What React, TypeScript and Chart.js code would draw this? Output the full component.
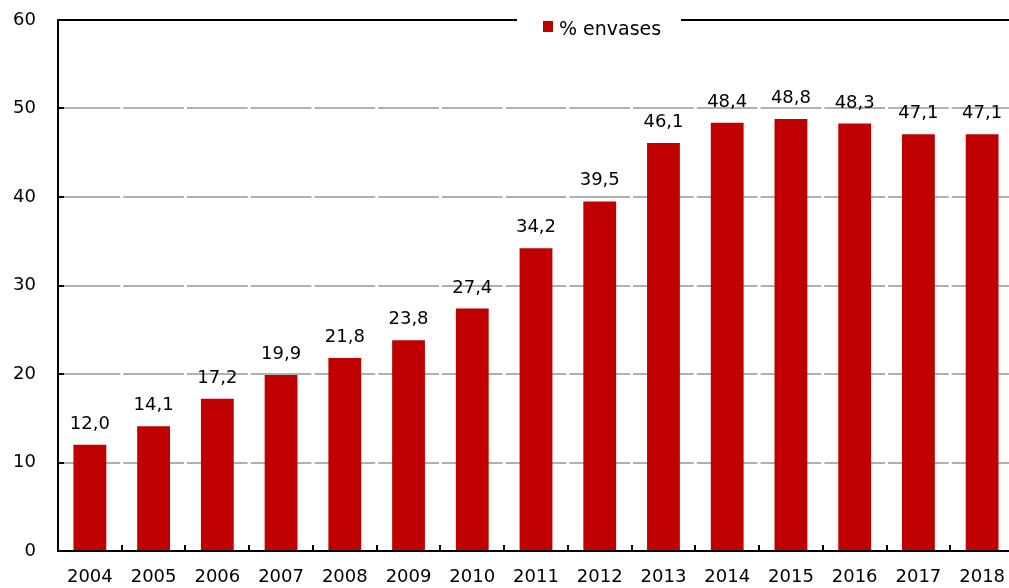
import { useEffect, useRef } from "react";
import { Chart, registerables } from "chart.js";

Chart.register(...registerables);

const years = ["2004", "2005", "2006", "2007", "2008", "2009", "2010", "2011", "2012", "2013", "2014", "2015", "2016", "2017", "2018"];
const envases = [12.0, 14.1, 17.2, 19.9, 21.8, 23.8, 27.4, 34.2, 39.5, 46.1, 48.4, 48.8, 48.3, 47.1, 47.1];
const yTicks = [0, 10, 20, 30, 40, 50, 60];
const seriesLabel = "% envases";

const FONT = "'DejaVu Sans', Verdana, sans-serif";
const RED = "#C00000";

const fmt = (v: number) => v.toFixed(1).replace(".", ",");

const decorPlugin = {
  id: "decor",
  beforeDatasetsDraw(chart: any) {
    const { ctx, chartArea: a, scales } = chart;
    const y = scales.y;
    const cat = (a.right - a.left) / years.length;
    ctx.save();
    ctx.strokeStyle = "#B0B0B0";
    ctx.lineWidth = 2;
    ctx.setLineDash([cat - 3, 3]);
    ctx.lineDashOffset = cat - 1.5;
    for (const v of yTicks) {
      if (v === yTicks[0] || v === yTicks[yTicks.length - 1]) continue;
      const py = Math.round(y.getPixelForValue(v));
      ctx.beginPath();
      ctx.moveTo(a.left, py);
      ctx.lineTo(a.right, py);
      ctx.stroke();
    }
    ctx.restore();
  },
  afterDatasetsDraw(chart: any) {
    const { ctx, chartArea: a, scales } = chart;
    const y = scales.y;
    const cat = (a.right - a.left) / years.length;
    ctx.save();
    ctx.strokeStyle = "#000";
    ctx.lineWidth = 2;
    ctx.setLineDash([]);
    const top = Math.round(y.getPixelForValue(yTicks[yTicks.length - 1]));
    const bottom = Math.round(y.getPixelForValue(yTicks[0]));
    ctx.beginPath();
    ctx.moveTo(a.left, top);
    ctx.lineTo(a.right, top);
    ctx.stroke();
    ctx.beginPath();
    ctx.moveTo(a.left, top - 1);
    ctx.lineTo(a.left, bottom + 1);
    ctx.stroke();
    ctx.beginPath();
    ctx.moveTo(a.left - 1, bottom);
    ctx.lineTo(a.right, bottom);
    ctx.stroke();
    for (const v of yTicks) {
      const py = Math.round(y.getPixelForValue(v));
      ctx.beginPath();
      ctx.moveTo(a.left, py);
      ctx.lineTo(a.left + 6, py);
      ctx.stroke();
    }
    for (let i = 1; i <= years.length; i++) {
      const px = Math.round(a.left + i * cat);
      ctx.beginPath();
      ctx.moveTo(px, bottom);
      ctx.lineTo(px, bottom - 6);
      ctx.stroke();
    }
    const meta = chart.getDatasetMeta(0);
    ctx.fillStyle = "#000";
    ctx.font = `18px ${FONT}`;
    ctx.textAlign = "center";
    ctx.textBaseline = "alphabetic";
    meta.data.forEach((el: any, i: number) => {
      ctx.fillText(fmt(envases[i]), el.x, el.y - 16);
    });
    ctx.fillStyle = "#fff";
    ctx.fillRect(517, top - 4, 164, 8);
    ctx.fillStyle = RED;
    ctx.fillRect(543, 21, 10, 11);
    ctx.fillStyle = "#000";
    ctx.font = `19px ${FONT}`;
    ctx.textAlign = "left";
    ctx.fillText(seriesLabel, 559, 35);
    ctx.restore();
  },
};

export default function App() {
  const ref = useRef<HTMLCanvasElement | null>(null);
  useEffect(() => {
    document.body.style.margin = "0";
    if (!ref.current) return;
    const chart = new Chart(ref.current, {
      type: "bar",
      data: {
        labels: years,
        datasets: [
          {
            label: seriesLabel,
            data: envases,
            backgroundColor: RED,
            borderWidth: 0,
            categoryPercentage: 1,
            barPercentage: 0.515,
          },
        ],
      },
      options: {
        responsive: false,
        animation: false,
        devicePixelRatio: 1,
        layout: { padding: { top: 20, right: 0, left: 0, bottom: 0 } },
        plugins: { legend: { display: false }, tooltip: { enabled: false } },
        scales: {
          x: {
            grid: { display: false, drawTicks: false },
            border: { display: false },
            ticks: { color: "#000", font: { family: FONT, size: 18 }, padding: 16, maxRotation: 0, autoSkip: false },
            afterFit: (s: any) => {
              s.height = 37;
              s.paddingLeft = 0;
              s.paddingRight = 0;
            },
          },
          y: {
            min: yTicks[0],
            max: yTicks[yTicks.length - 1],
            grid: { display: false, drawTicks: false },
            border: { display: false },
            ticks: { stepSize: 10, color: "#000", font: { family: FONT, size: 18 }, padding: 22 },
            afterFit: (s: any) => {
              s.width = 58;
              s.paddingTop = 0;
              s.paddingBottom = 0;
            },
          },
        },
      },
      plugins: [decorPlugin],
    } as any);
    return () => chart.destroy();
  }, []);
  return (
    <div style={{ width: 1009, height: 588, overflow: "hidden", position: "relative", background: "#fff" }}>
      <canvas ref={ref} width={1014} height={588} style={{ display: "block" }} />
    </div>
  );
}
